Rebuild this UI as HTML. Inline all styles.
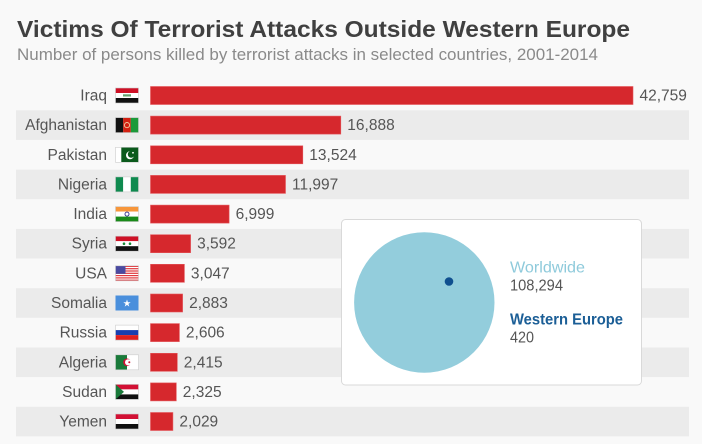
<!DOCTYPE html>
<html><head><meta charset="utf-8"><style>
html,body{margin:0;padding:0;background:#f9f9f9;}
svg{display:block;font-family:"Liberation Sans",sans-serif;}
</style></head><body>
<svg width="702" height="444" viewBox="0 0 702 444" xmlns="http://www.w3.org/2000/svg">
<rect width="702" height="444" fill="#f9f9f9"/>
<text x="17" y="37" font-size="23" font-weight="bold" fill="#404040" textLength="613" lengthAdjust="spacingAndGlyphs">Victims Of Terrorist Attacks Outside Western Europe</text>
<text x="17" y="60" font-size="16.5" fill="#8a8a8a" textLength="581" lengthAdjust="spacingAndGlyphs">Number of persons killed by terrorist attacks in selected countries, 2001-2014</text>

<g fill="#ebebeb">
<rect x="16" y="110.3" width="673" height="29.6"/>
<rect x="16" y="169.6" width="673" height="29.6"/>
<rect x="16" y="228.9" width="673" height="29.6"/>
<rect x="16" y="288.2" width="673" height="29.6"/>
<rect x="16" y="347.5" width="673" height="29.6"/>
<rect x="16" y="406.8" width="673" height="29.6"/>
</g>

<g font-size="15.5" fill="#555" text-anchor="end">
<text x="107" y="100.5">Iraq</text>
<text x="107" y="130.1">Afghanistan</text>
<text x="107" y="159.8">Pakistan</text>
<text x="107" y="189.4">Nigeria</text>
<text x="107" y="219.1">India</text>
<text x="107" y="248.7">Syria</text>
<text x="107" y="278.3">USA</text>
<text x="107" y="308.0">Somalia</text>
<text x="107" y="337.6">Russia</text>
<text x="107" y="367.3">Algeria</text>
<text x="107" y="396.9">Sudan</text>
<text x="107" y="426.5">Yemen</text>
</g>

<g fill="#d6282d" stroke="#e4565a" stroke-width="0.6">
<rect x="150.5" y="86.5" width="482.5" height="18"/>
<rect x="150.5" y="116.1" width="190.3" height="18"/>
<rect x="150.5" y="145.8" width="152.3" height="18"/>
<rect x="150.5" y="175.4" width="135" height="18"/>
<rect x="150.5" y="205.1" width="78.6" height="18"/>
<rect x="150.5" y="234.7" width="40.1" height="18"/>
<rect x="150.5" y="264.3" width="33.9" height="18"/>
<rect x="150.5" y="294.0" width="32.1" height="18"/>
<rect x="150.5" y="323.6" width="28.9" height="18"/>
<rect x="150.5" y="353.3" width="26.8" height="18"/>
<rect x="150.5" y="382.9" width="25.8" height="18"/>
<rect x="150.5" y="412.5" width="22.4" height="18"/>
</g>

<g font-size="15.5" fill="#555">
<text x="639.5" y="100.5">42,759</text>
<text x="347.3" y="130.1">16,888</text>
<text x="309.3" y="159.8">13,524</text>
<text x="292" y="189.4">11,997</text>
<text x="235.6" y="219.1">6,999</text>
<text x="197.1" y="248.7">3,592</text>
<text x="190.9" y="278.3">3,047</text>
<text x="189.1" y="308.0">2,883</text>
<text x="185.9" y="337.6">2,606</text>
<text x="183.8" y="367.3">2,415</text>
<text x="182.8" y="396.9">2,325</text>
<text x="179.4" y="426.5">2,029</text>
</g>

<g transform="translate(115.5,88)">
<rect width="23" height="5" fill="#ce1126"/><rect y="5" width="23" height="5" fill="#fff"/><rect y="10" width="23" height="5" fill="#111"/>
<rect x="7.5" y="6.3" width="8" height="2.2" fill="#3a8a4a" opacity="0.8"/>
<rect width="23" height="15" fill="none" stroke="#ccc" stroke-width="0.6"/>
</g>
<g transform="translate(115.5,117.6)">
<rect width="7.7" height="15" fill="#111"/><rect x="7.7" width="7.6" height="15" fill="#d32011"/><rect x="15.3" width="7.7" height="15" fill="#1c9a3a"/>
<circle cx="11.5" cy="7.5" r="2.6" fill="none" stroke="#f0c8a0" stroke-width="0.9"/>
<rect width="23" height="15" fill="none" stroke="#ccc" stroke-width="0.6"/>
</g>
<g transform="translate(115.5,147.3)">
<rect width="23" height="15" fill="#fff"/><rect x="5.8" width="17.2" height="15" fill="#0b5a1c"/>
<circle cx="14.5" cy="8" r="4" fill="#fff"/><circle cx="15.7" cy="7" r="3.4" fill="#0b5a1c"/>
<circle cx="17.5" cy="5.5" r="0.9" fill="#fff"/>
<rect width="23" height="15" fill="none" stroke="#ccc" stroke-width="0.6"/>
</g>
<g transform="translate(115.5,176.9)">
<rect width="7.7" height="15" fill="#0f8a4f"/><rect x="7.7" width="7.6" height="15" fill="#fff"/><rect x="15.3" width="7.7" height="15" fill="#0f8a4f"/>
<rect width="23" height="15" fill="none" stroke="#ccc" stroke-width="0.6"/>
</g>
<g transform="translate(115.5,206.6)">
<rect width="23" height="5" fill="#f7963a"/><rect y="5" width="23" height="5" fill="#fff"/><rect y="10" width="23" height="5" fill="#1a8a1a"/>
<circle cx="11.5" cy="7.5" r="2" fill="none" stroke="#2a2a8a" stroke-width="0.9"/>
<rect width="23" height="15" fill="none" stroke="#ccc" stroke-width="0.6"/>
</g>
<g transform="translate(115.5,236.2)">
<rect width="23" height="5" fill="#ce1126"/><rect y="5" width="23" height="5" fill="#fff"/><rect y="10" width="23" height="5" fill="#111"/>
<circle cx="8.5" cy="7.5" r="1.3" fill="#1a8a3a"/><circle cx="14.5" cy="7.5" r="1.3" fill="#1a8a3a"/>
<rect width="23" height="15" fill="none" stroke="#ccc" stroke-width="0.6"/>
</g>
<g transform="translate(115.5,265.8)">
<rect width="23" height="15" fill="#fff"/>
<g fill="#e0393e"><rect y="0" width="23" height="1.2"/><rect y="2.3" width="23" height="1.2"/><rect y="4.6" width="23" height="1.2"/><rect y="6.9" width="23" height="1.2"/><rect y="9.2" width="23" height="1.2"/><rect y="11.5" width="23" height="1.2"/><rect y="13.8" width="23" height="1.2"/></g>
<rect width="10" height="8" fill="#4a4aa0"/>
<rect width="23" height="15" fill="none" stroke="#ccc" stroke-width="0.6"/>
</g>
<g transform="translate(115.5,295.5)">
<rect width="23" height="15" fill="#4a8fdc"/>
<polygon points="11.5,4 12.4,6.7 15.2,6.7 12.9,8.4 13.8,11.1 11.5,9.4 9.2,11.1 10.1,8.4 7.8,6.7 10.6,6.7" fill="#fff"/>
</g>
<g transform="translate(115.5,325.1)">
<rect width="23" height="5" fill="#fff"/><rect y="5" width="23" height="5" fill="#1a3fb0"/><rect y="10" width="23" height="5" fill="#e0201e"/>
<rect width="23" height="15" fill="none" stroke="#ccc" stroke-width="0.6"/>
</g>
<g transform="translate(115.5,354.8)">
<rect width="11.5" height="15" fill="#1a7a3a"/><rect x="11.5" width="11.5" height="15" fill="#fff"/>
<circle cx="11.5" cy="7.5" r="3.8" fill="#d21034"/><circle cx="12.6" cy="7.5" r="3.1" fill="#fff"/>
<circle cx="13.8" cy="7.5" r="1" fill="#d21034"/>
<rect width="23" height="15" fill="none" stroke="#ccc" stroke-width="0.6"/>
</g>
<g transform="translate(115.5,384.4)">
<rect width="23" height="5" fill="#d21034"/><rect y="5" width="23" height="5" fill="#fff"/><rect y="10" width="23" height="5" fill="#111"/>
<polygon points="0,0 8.5,7.5 0,15" fill="#1a7a3a"/>
<rect width="23" height="15" fill="none" stroke="#ccc" stroke-width="0.6"/>
</g>
<g transform="translate(115.5,414)">
<rect width="23" height="5" fill="#d21034"/><rect y="5" width="23" height="5" fill="#fff"/><rect y="10" width="23" height="5" fill="#111"/>
<rect width="23" height="15" fill="none" stroke="#ccc" stroke-width="0.6"/>
</g>

<rect x="341.5" y="219.5" width="300" height="165.5" rx="4" fill="#fff" stroke="#d9d9d9" stroke-width="1"/>
<circle cx="424.3" cy="302.5" r="70.2" fill="#93cddc"/>
<circle cx="449" cy="281.5" r="4.3" fill="#0f4f8f"/>
<text x="510" y="272.3" font-size="16" fill="#8ecadb" textLength="75" lengthAdjust="spacingAndGlyphs">Worldwide</text>
<text x="510" y="290.5" font-size="16" fill="#555" textLength="53" lengthAdjust="spacingAndGlyphs">108,294</text>
<text x="510" y="324.3" font-size="16" font-weight="bold" fill="#1b5e96" textLength="113" lengthAdjust="spacingAndGlyphs">Western Europe</text>
<text x="510" y="342.5" font-size="16" fill="#555" textLength="24" lengthAdjust="spacingAndGlyphs">420</text>
</svg>
</body></html>
